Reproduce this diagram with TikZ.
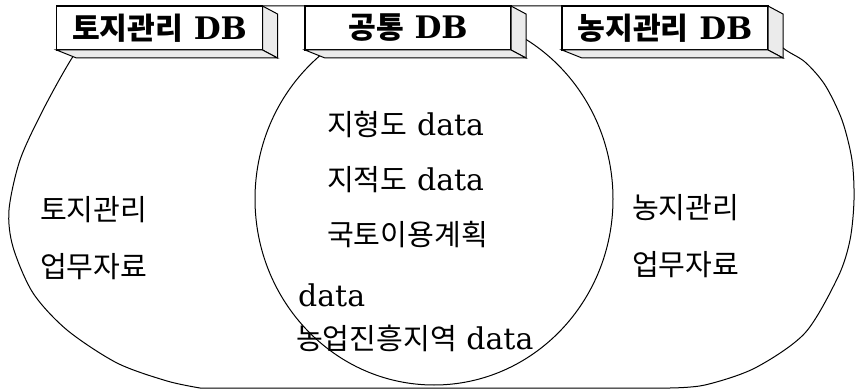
\documentclass[tikz,border=0pt]{standalone}
\usepackage{fontspec}
\setmainfont{DejaVu Serif}[Scale=1.07]
\newfontfamily\kr{Noto Sans CJK KR}[Scale=1.04]

\tikzset{
  venn/.style={line width=1pt},
  dbbox/.style={draw, line width=1.1pt, fill=white, minimum width=206pt,
    minimum height=44pt, inner sep=0pt, outer sep=0pt,
    font=\fontsize{29}{34}\selectfont\bfseries},
  dbface/.style={draw, line width=1pt, fill=black!8},
  memo/.style={inner sep=0pt, anchor=west, font=\fontsize{28}{33}\selectfont}
}

\begin{document}
\begin{tikzpicture}[x=1pt,y=-1pt]
    \useasboundingbox (0,0) rectangle (855,390);
    % outer areas, cut at top and bottom
    \draw[venn] (120,6) -- (745,6)
      -- plot[smooth] coordinates {(760,25) (783,48) (805,62) (825,85) (842,120) (852,160) (854,200) (850,240) (838,277) (805,333) (755,368) (705,385) (670,388)}
      -- plot[smooth] coordinates {(200,388) (167,381) (117,363) (67,330) (33,293) (13,247) (9,210) (20,160) (43,110) (72,58) (100,20)}
      -- cycle;
    % common area
    \draw[venn] (434,199) ellipse [x radius=179, y radius=186];

    % DB boxes
    \node[dbbox] (tojiDB) at (159.5,28) {{\kr 토지관리} DB};
    \node[dbbox] (gongDB) at (408,28) {{\kr 공통} DB};
    \node[dbbox] (nongDB) at (665,28) {{\kr 농지관리} DB};
    \foreach \b in {tojiDB,gongDB,nongDB} {
      \draw[dbface] (\b.north east) -- ++(15,8) -- ++(0,44) -- (\b.south east) -- cycle;
      \draw[dbface] (\b.south west) -- ++(20,8) -- ++(201,0) -- (\b.south east) -- cycle;
    }

    % texts
    \node[memo] (tojiA) at (40,210) {\kr 토지관리};
    \node[memo] (tojiB) at (40,267) {\kr 업무자료};
    \node[memo] (nongA) at (632,208) {\kr 농지관리};
    \node[memo] (nongB) at (632,265) {\kr 업무자료};
    \node[memo] (jihyung) at (327,124) {{\kr 지형도} data};
    \node[memo] (jijuk) at (327,180) {{\kr 지적도} data};
    \node[memo] (gukto) at (327,235) {\kr 국토이용계획};
    \node[memo] (guktoData) at (298,295) {data};
    \node[memo] (nongup) at (296,338) {{\kr 농업진흥지역} data};
\end{tikzpicture}
\end{document}
